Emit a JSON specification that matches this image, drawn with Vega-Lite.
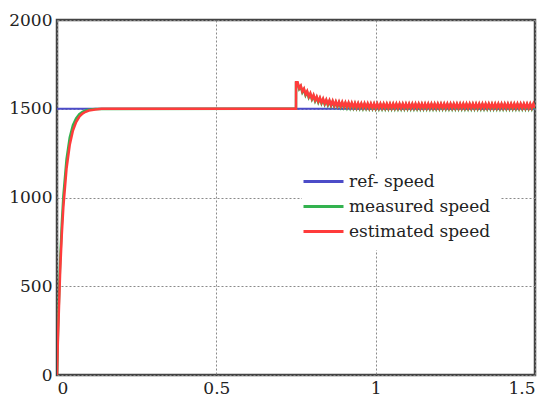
{
  "$schema": "https://vega.github.io/schema/vega-lite/v6.json",
  "autosize": {"type": "none"},
  "padding": {"left": 57, "top": 20, "right": 16, "bottom": 25},
  "width": 478,
  "height": 355,
  "background": "white",
  "config": {
    "view": {"stroke": "#444444", "strokeWidth": 2.5},
    "axis": {
      "labelFont": "DejaVu Serif",
      "labelFontSize": 17,
      "labelColor": "#222222",
      "labelPadding": 5,
      "domain": false,
      "ticks": false,
      "grid": true,
      "gridColor": "#8a8a8a",
      "gridDash": [2, 2],
      "gridWidth": 1,
      "title": null
    },
    "legend": {
      "orient": "none",
      "legendX": 245,
      "legendY": 140,
      "fillColor": "white",
      "padding": 10,
      "symbolType": "M-2,0H2",
      "symbolSize": 400,
      "symbolStrokeWidth": 3,
      "symbolFillColor": "transparent",
      "labelOffset": 14,
      "labelFont": "DejaVu Serif",
      "labelFontSize": 17,
      "labelColor": "#222222",
      "rowPadding": 5,
      "title": null
    }
  },
  "encoding": {
    "x": {"field": "t", "type": "quantitative", "scale": {"domain": [0, 1.5], "nice": false}, "axis": {"values": [0, 0.5, 1, 1.5], "format": "~g"}},
    "y": {"field": "v", "type": "quantitative", "scale": {"domain": [0, 2000], "nice": false}, "axis": {"values": [0, 500, 1000, 1500, 2000], "format": "d"}}
  },
  "layer": [
    {
      "data": {"values": [{"t": 0, "v": 1500}, {"t": 1.5, "v": 1500}]},
      "mark": {"type": "line", "strokeWidth": 2, "clip": true},
      "encoding": {"color": {"datum": "ref- speed", "type": "nominal", "scale": {"domain": ["ref- speed", "measured speed", "estimated speed"], "range": ["#4c4cc8", "#33b24f", "#ff3b3b"]}}}
    },
    {
      "data": {"values": [
        {"t": 0, "v": 0}, {"t": 0.003, "v": 240}, {"t": 0.006, "v": 420}, {"t": 0.01, "v": 639}, {"t": 0.015, "v": 847}, {"t": 0.02, "v": 1006}, {"t": 0.03, "v": 1216}, {"t": 0.04, "v": 1338}, {"t": 0.05, "v": 1407}, {"t": 0.06, "v": 1446}, {"t": 0.07, "v": 1470}, {"t": 0.08, "v": 1482}, {"t": 0.09, "v": 1490}, {"t": 0.1, "v": 1494}, {"t": 0.12, "v": 1499}, {"t": 0.75, "v": 1500}, {"t": 0.7502, "v": 1645},
        {"t": 0.755, "v": 1645}, {"t": 0.76, "v": 1611}, {"t": 0.765, "v": 1625}, {"t": 0.77, "v": 1592}, {"t": 0.775, "v": 1608}, {"t": 0.78, "v": 1576}, {"t": 0.785, "v": 1594}, {"t": 0.79, "v": 1563}, {"t": 0.795, "v": 1582}, {"t": 0.8, "v": 1552},
        {"t": 0.805, "v": 1572}, {"t": 0.81, "v": 1543}, {"t": 0.815, "v": 1563}, {"t": 0.82, "v": 1536}, {"t": 0.825, "v": 1557}, {"t": 0.83, "v": 1530}, {"t": 0.835, "v": 1551}, {"t": 0.84, "v": 1524}, {"t": 0.845, "v": 1546}, {"t": 0.85, "v": 1520},
        {"t": 0.855, "v": 1542}, {"t": 0.86, "v": 1516}, {"t": 0.865, "v": 1539}, {"t": 0.87, "v": 1513}, {"t": 0.875, "v": 1536}, {"t": 0.88, "v": 1511}, {"t": 0.885, "v": 1534}, {"t": 0.89, "v": 1509}, {"t": 0.895, "v": 1532}, {"t": 0.9, "v": 1507},
        {"t": 0.905, "v": 1530}, {"t": 0.91, "v": 1505}, {"t": 0.915, "v": 1529}, {"t": 0.92, "v": 1504}, {"t": 0.925, "v": 1528}, {"t": 0.93, "v": 1503}, {"t": 0.935, "v": 1527}, {"t": 0.94, "v": 1502}, {"t": 0.945, "v": 1526}, {"t": 0.95, "v": 1502},
        {"t": 0.955, "v": 1525}, {"t": 0.96, "v": 1501}, {"t": 0.965, "v": 1525}, {"t": 0.97, "v": 1501}, {"t": 0.975, "v": 1524}, {"t": 0.98, "v": 1500}, {"t": 0.985, "v": 1524}, {"t": 0.99, "v": 1500}, {"t": 0.995, "v": 1524}, {"t": 1.0, "v": 1499},
        {"t": 1.005, "v": 1523}, {"t": 1.01, "v": 1499}, {"t": 1.015, "v": 1523}, {"t": 1.02, "v": 1499}, {"t": 1.025, "v": 1523}, {"t": 1.03, "v": 1499}, {"t": 1.035, "v": 1523}, {"t": 1.04, "v": 1499}, {"t": 1.045, "v": 1523}, {"t": 1.05, "v": 1499},
        {"t": 1.055, "v": 1523}, {"t": 1.06, "v": 1499}, {"t": 1.065, "v": 1523}, {"t": 1.07, "v": 1499}, {"t": 1.075, "v": 1523}, {"t": 1.08, "v": 1499}, {"t": 1.085, "v": 1523}, {"t": 1.09, "v": 1499}, {"t": 1.095, "v": 1523}, {"t": 1.1, "v": 1499},
        {"t": 1.105, "v": 1523}, {"t": 1.11, "v": 1499}, {"t": 1.115, "v": 1523}, {"t": 1.12, "v": 1499}, {"t": 1.125, "v": 1523}, {"t": 1.13, "v": 1499}, {"t": 1.135, "v": 1523}, {"t": 1.14, "v": 1499}, {"t": 1.145, "v": 1523}, {"t": 1.15, "v": 1499},
        {"t": 1.155, "v": 1523}, {"t": 1.16, "v": 1499}, {"t": 1.165, "v": 1523}, {"t": 1.17, "v": 1499}, {"t": 1.175, "v": 1523}, {"t": 1.18, "v": 1499}, {"t": 1.185, "v": 1523}, {"t": 1.19, "v": 1499}, {"t": 1.195, "v": 1523}, {"t": 1.2, "v": 1499},
        {"t": 1.205, "v": 1523}, {"t": 1.21, "v": 1499}, {"t": 1.215, "v": 1523}, {"t": 1.22, "v": 1499}, {"t": 1.225, "v": 1523}, {"t": 1.23, "v": 1499}, {"t": 1.235, "v": 1523}, {"t": 1.24, "v": 1499}, {"t": 1.245, "v": 1523}, {"t": 1.25, "v": 1499},
        {"t": 1.255, "v": 1523}, {"t": 1.26, "v": 1499}, {"t": 1.265, "v": 1523}, {"t": 1.27, "v": 1499}, {"t": 1.275, "v": 1523}, {"t": 1.28, "v": 1499}, {"t": 1.285, "v": 1523}, {"t": 1.29, "v": 1499}, {"t": 1.295, "v": 1523}, {"t": 1.3, "v": 1499},
        {"t": 1.305, "v": 1523}, {"t": 1.31, "v": 1499}, {"t": 1.315, "v": 1523}, {"t": 1.32, "v": 1499}, {"t": 1.325, "v": 1523}, {"t": 1.33, "v": 1499}, {"t": 1.335, "v": 1523}, {"t": 1.34, "v": 1499}, {"t": 1.345, "v": 1523}, {"t": 1.35, "v": 1499},
        {"t": 1.355, "v": 1523}, {"t": 1.36, "v": 1499}, {"t": 1.365, "v": 1523}, {"t": 1.37, "v": 1499}, {"t": 1.375, "v": 1523}, {"t": 1.38, "v": 1499}, {"t": 1.385, "v": 1523}, {"t": 1.39, "v": 1499}, {"t": 1.395, "v": 1523}, {"t": 1.4, "v": 1499},
        {"t": 1.405, "v": 1523}, {"t": 1.41, "v": 1499}, {"t": 1.415, "v": 1523}, {"t": 1.42, "v": 1499}, {"t": 1.425, "v": 1523}, {"t": 1.43, "v": 1499}, {"t": 1.435, "v": 1523}, {"t": 1.44, "v": 1499}, {"t": 1.445, "v": 1523}, {"t": 1.45, "v": 1499},
        {"t": 1.455, "v": 1523}, {"t": 1.46, "v": 1499}, {"t": 1.465, "v": 1523}, {"t": 1.47, "v": 1499}, {"t": 1.475, "v": 1523}, {"t": 1.48, "v": 1499}, {"t": 1.485, "v": 1523}, {"t": 1.49, "v": 1499}, {"t": 1.495, "v": 1523}, {"t": 1.5, "v": 1499}
      ]},
      "mark": {"type": "line", "strokeWidth": 2.5, "clip": true},
      "encoding": {"color": {"datum": "measured speed", "type": "nominal"}}
    },
    {
      "data": {"values": [
        {"t": 0, "v": 0}, {"t": 0.003, "v": 210}, {"t": 0.006, "v": 370}, {"t": 0.01, "v": 590}, {"t": 0.015, "v": 791}, {"t": 0.02, "v": 948}, {"t": 0.03, "v": 1165}, {"t": 0.04, "v": 1297}, {"t": 0.05, "v": 1377}, {"t": 0.06, "v": 1425}, {"t": 0.07, "v": 1455}, {"t": 0.08, "v": 1473}, {"t": 0.09, "v": 1483}, {"t": 0.1, "v": 1490}, {"t": 0.12, "v": 1496}, {"t": 0.14, "v": 1500}, {"t": 0.75, "v": 1500}, {"t": 0.7502, "v": 1650},
        {"t": 0.755, "v": 1650}, {"t": 0.76, "v": 1616}, {"t": 0.765, "v": 1630}, {"t": 0.77, "v": 1597}, {"t": 0.775, "v": 1613}, {"t": 0.78, "v": 1581}, {"t": 0.785, "v": 1599}, {"t": 0.79, "v": 1568}, {"t": 0.795, "v": 1587}, {"t": 0.8, "v": 1557},
        {"t": 0.805, "v": 1577}, {"t": 0.81, "v": 1548}, {"t": 0.815, "v": 1568}, {"t": 0.82, "v": 1541}, {"t": 0.825, "v": 1562}, {"t": 0.83, "v": 1535}, {"t": 0.835, "v": 1556}, {"t": 0.84, "v": 1529}, {"t": 0.845, "v": 1551}, {"t": 0.85, "v": 1525},
        {"t": 0.855, "v": 1547}, {"t": 0.86, "v": 1521}, {"t": 0.865, "v": 1544}, {"t": 0.87, "v": 1518}, {"t": 0.875, "v": 1541}, {"t": 0.88, "v": 1516}, {"t": 0.885, "v": 1539}, {"t": 0.89, "v": 1514}, {"t": 0.895, "v": 1537}, {"t": 0.9, "v": 1512},
        {"t": 0.905, "v": 1535}, {"t": 0.91, "v": 1510}, {"t": 0.915, "v": 1534}, {"t": 0.92, "v": 1509}, {"t": 0.925, "v": 1533}, {"t": 0.93, "v": 1508}, {"t": 0.935, "v": 1532}, {"t": 0.94, "v": 1507}, {"t": 0.945, "v": 1531}, {"t": 0.95, "v": 1507},
        {"t": 0.955, "v": 1530}, {"t": 0.96, "v": 1506}, {"t": 0.965, "v": 1530}, {"t": 0.97, "v": 1506}, {"t": 0.975, "v": 1529}, {"t": 0.98, "v": 1505}, {"t": 0.985, "v": 1529}, {"t": 0.99, "v": 1505}, {"t": 0.995, "v": 1529}, {"t": 1.0, "v": 1504},
        {"t": 1.005, "v": 1528}, {"t": 1.01, "v": 1504}, {"t": 1.015, "v": 1528}, {"t": 1.02, "v": 1504}, {"t": 1.025, "v": 1528}, {"t": 1.03, "v": 1504}, {"t": 1.035, "v": 1528}, {"t": 1.04, "v": 1504}, {"t": 1.045, "v": 1528}, {"t": 1.05, "v": 1504},
        {"t": 1.055, "v": 1528}, {"t": 1.06, "v": 1504}, {"t": 1.065, "v": 1528}, {"t": 1.07, "v": 1504}, {"t": 1.075, "v": 1528}, {"t": 1.08, "v": 1504}, {"t": 1.085, "v": 1528}, {"t": 1.09, "v": 1504}, {"t": 1.095, "v": 1528}, {"t": 1.1, "v": 1504},
        {"t": 1.105, "v": 1528}, {"t": 1.11, "v": 1504}, {"t": 1.115, "v": 1528}, {"t": 1.12, "v": 1504}, {"t": 1.125, "v": 1528}, {"t": 1.13, "v": 1504}, {"t": 1.135, "v": 1528}, {"t": 1.14, "v": 1504}, {"t": 1.145, "v": 1528}, {"t": 1.15, "v": 1504},
        {"t": 1.155, "v": 1528}, {"t": 1.16, "v": 1504}, {"t": 1.165, "v": 1528}, {"t": 1.17, "v": 1504}, {"t": 1.175, "v": 1528}, {"t": 1.18, "v": 1504}, {"t": 1.185, "v": 1528}, {"t": 1.19, "v": 1504}, {"t": 1.195, "v": 1528}, {"t": 1.2, "v": 1504},
        {"t": 1.205, "v": 1528}, {"t": 1.21, "v": 1504}, {"t": 1.215, "v": 1528}, {"t": 1.22, "v": 1504}, {"t": 1.225, "v": 1528}, {"t": 1.23, "v": 1504}, {"t": 1.235, "v": 1528}, {"t": 1.24, "v": 1504}, {"t": 1.245, "v": 1528}, {"t": 1.25, "v": 1504},
        {"t": 1.255, "v": 1528}, {"t": 1.26, "v": 1504}, {"t": 1.265, "v": 1528}, {"t": 1.27, "v": 1504}, {"t": 1.275, "v": 1528}, {"t": 1.28, "v": 1504}, {"t": 1.285, "v": 1528}, {"t": 1.29, "v": 1504}, {"t": 1.295, "v": 1528}, {"t": 1.3, "v": 1504},
        {"t": 1.305, "v": 1528}, {"t": 1.31, "v": 1504}, {"t": 1.315, "v": 1528}, {"t": 1.32, "v": 1504}, {"t": 1.325, "v": 1528}, {"t": 1.33, "v": 1504}, {"t": 1.335, "v": 1528}, {"t": 1.34, "v": 1504}, {"t": 1.345, "v": 1528}, {"t": 1.35, "v": 1504},
        {"t": 1.355, "v": 1528}, {"t": 1.36, "v": 1504}, {"t": 1.365, "v": 1528}, {"t": 1.37, "v": 1504}, {"t": 1.375, "v": 1528}, {"t": 1.38, "v": 1504}, {"t": 1.385, "v": 1528}, {"t": 1.39, "v": 1504}, {"t": 1.395, "v": 1528}, {"t": 1.4, "v": 1504},
        {"t": 1.405, "v": 1528}, {"t": 1.41, "v": 1504}, {"t": 1.415, "v": 1528}, {"t": 1.42, "v": 1504}, {"t": 1.425, "v": 1528}, {"t": 1.43, "v": 1504}, {"t": 1.435, "v": 1528}, {"t": 1.44, "v": 1504}, {"t": 1.445, "v": 1528}, {"t": 1.45, "v": 1504},
        {"t": 1.455, "v": 1528}, {"t": 1.46, "v": 1504}, {"t": 1.465, "v": 1528}, {"t": 1.47, "v": 1504}, {"t": 1.475, "v": 1528}, {"t": 1.48, "v": 1504}, {"t": 1.485, "v": 1528}, {"t": 1.49, "v": 1504}, {"t": 1.495, "v": 1528}, {"t": 1.5, "v": 1504}
      ]},
      "mark": {"type": "line", "strokeWidth": 2.5, "clip": true},
      "encoding": {"color": {"datum": "estimated speed", "type": "nominal"}}
    }
  ]
}
